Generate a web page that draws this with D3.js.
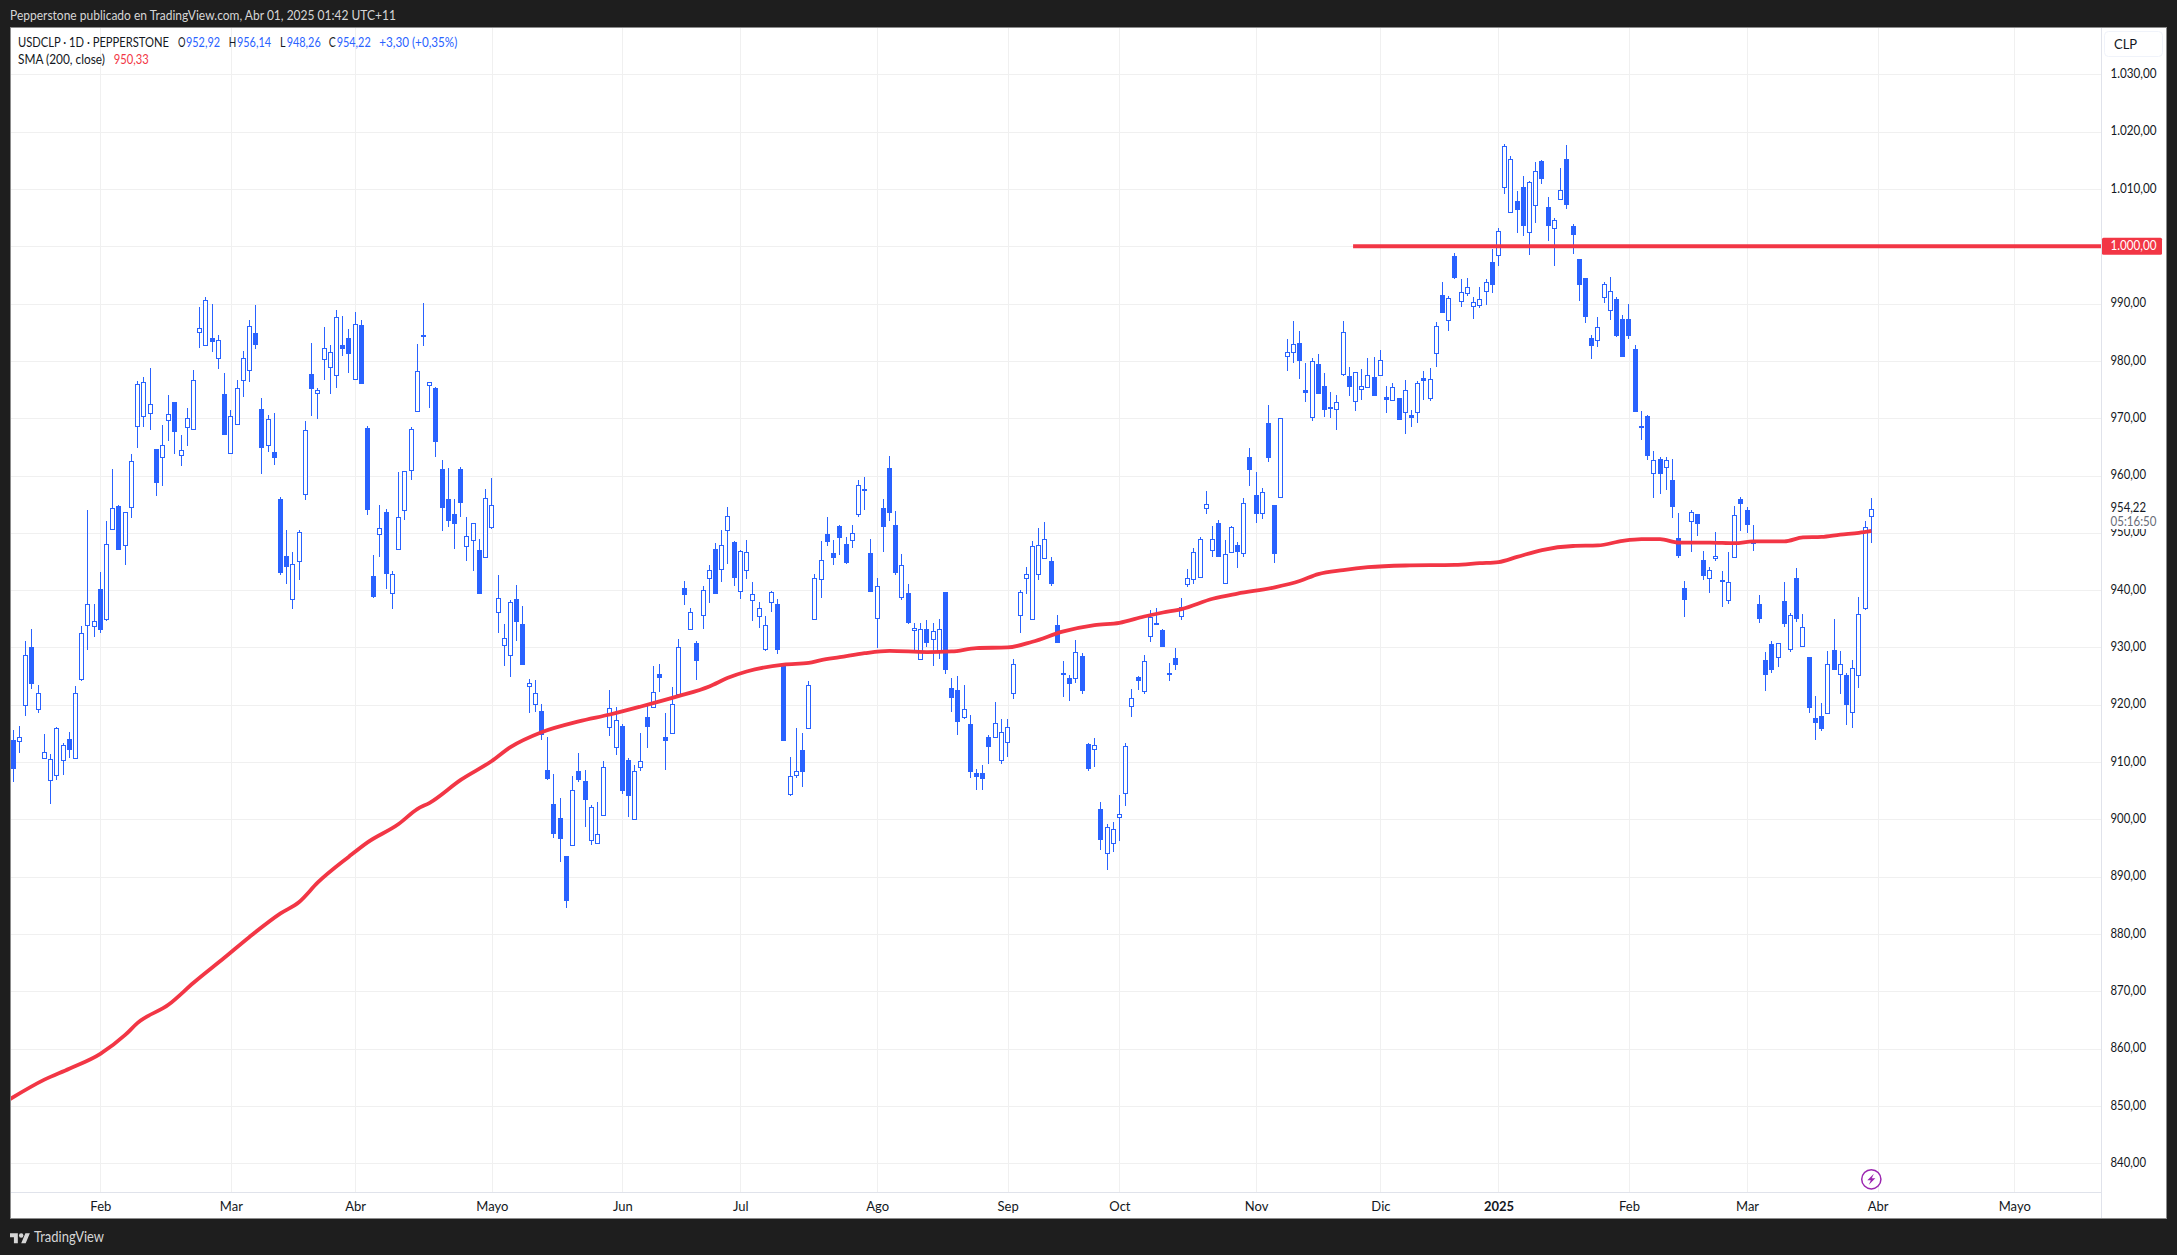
<!DOCTYPE html>
<html><head><meta charset="utf-8"><script src="https://cdn.jsdelivr.net/npm/d3@7"></script>
<style>html,body{margin:0;padding:0;background:#1e1e1e;overflow:hidden}svg{display:block}text{font-family:Lato,"Noto Sans",sans-serif;font-kerning:normal}</style></head><body><div id="c"></div>
<script>
const direction=["DUUDUUUUUD","UUUUDUUDUU","UUUDUUDUUU","UUDUDUUUUD","DUDDDUUUDU","UUUDDUDDDU","DUUUUUDUDD","DDDUUDUUUU","UDDUUDDDDD","UDDUUUUUDD",
"UUDUDDUUDU","DUUDUUDUUU","UUUDDUUDUU","UDDDDUUDDU","DDDUDUUDUU","DDDUDDDDUU","UUUUUUUDDD","DUDDUDUUUU","UDUUDDDDUU","UUUUDUUDUD",
"DUDDUUUDDU","DDDUUDUUUD","UDUDUDUDUU","DUDUUUUUDU","UUDDUUDDUU","DDDDDUUUDD","DDDDUDUDDD","UDDUUDUUDD","UDDDUDUDUD","DDUDUDUUUU"].join("");
const high=[915.6,916.3,931.1,933.2,923.4,914.9,911.4,916.1,913.4,915.3,923.2,933.8,954,937.6,943.2,952.1,961.1,954.9,953.7,963.8,
976.5,977.2,978.7,964.7,968.8,974,972.8,967.1,971.8,978.4,989.4,991.2,989.9,984.5,977.9,971.5,976.7,981.7,987.1,989.7,
973.5,970.6,970.9,956.3,950.5,946.6,950.5,969.5,983.1,975.2,985.9,982.7,988.9,987.8,985.6,988.5,987.1,968.6,946.1,954.9,
954.2,943.3,960.6,960.7,968.4,982.9,990.1,976.4,975.4,962.7,961.3,955.9,961.4,952.7,951.7,948.9,957.6,959.6,942.6,934.1,
938.2,940.9,937.2,924.5,924.3,920.1,914.4,907.9,903.7,893.6,907.6,911.6,908.7,902.5,903,910.2,922.6,919.6,916.6,910.8,
909.5,915.1,920.3,926.7,927.1,918.6,923.1,931.4,941.6,936.9,931.2,940.7,944.4,948.2,950.5,954.5,948.5,947,948.7,941.4,
937.9,935.5,939.8,938.4,927.1,910.9,915.9,915.1,924.2,942.8,948.5,952.7,948.7,951.4,949.2,951.4,959.2,959.7,948.9,942.1,
955.9,963.4,953.8,946.3,941.1,934.3,934.3,934.8,934.3,935,939.7,924.7,925,923.5,918.2,908.8,909.5,914.7,920.5,917.5,
917.5,928,940,944,948.5,950.8,951.9,945.8,935.7,927.6,925.2,931.3,929,913.3,914.2,903,899.2,899.6,904.3,913.3,
922.8,925.1,928.7,936.5,936.9,933.2,927.3,929.9,938.6,943.7,947.4,949.3,957.3,951.2,952.2,948.8,951.2,948.4,956.1,964.8,
960.6,957.8,972.3,954.8,970,983.8,986.9,985.2,979.6,980.5,981.2,977.9,974.6,974,986.9,978.9,978,978.6,980.5,980.7,
981.9,975.6,976.1,973.5,976.6,971.4,976.5,978.2,978.7,986.7,993.8,991.3,998.8,994.3,994.5,991.2,992.9,994.3,999.5,1003.2,
1017.9,1015.8,1009.7,1012.3,1011.4,1014.7,1015.1,1008.6,1004.9,1013.7,1017.7,1003.9,997.8,994.5,984.5,987.7,993.8,994.7,991.2,988,
989.9,982.8,971.3,970.5,964.3,963.3,963.3,962.9,953.5,941.6,954,953.3,946.8,944,950.2,943.3,946.7,954.7,956.3,954.5,
951.4,939.2,929.2,931.1,930.8,941.4,936,943.9,935.8,928.3,921.5,920.3,929.4,935,929.4,925.6,927.8,938.8,952.1,956.14];
const bodyHigh=[913.8,914.3,928.6,930,922,911.8,910.5,915.9,912.9,914.1,922,932.5,937.5,934.6,940.2,948.1,954.3,954.6,953.7,962.6,
975.9,976.3,972.4,964.6,965.4,970.7,972.8,964.4,970,976.6,985.7,990.6,984,983.6,974.2,970.3,975.2,980.5,986.1,984.8,
971.6,969.8,964.1,955.9,946,944.5,950.2,968,977.7,975,982.3,981.5,987.6,982.7,984,986.5,986.2,968.3,942.5,950.8,
953.6,942.9,952.7,960.7,968.2,978.2,984.45,976.3,975.2,961.1,955.9,953.3,961.1,949.4,951.7,947,956,954.8,938.6,931.7,
937.9,938.4,934.1,923.8,922,918.9,908.7,902.7,900.3,893.6,905.2,908.4,906.7,902.1,897.4,909.1,919.5,917.4,916.3,910.4,
908.4,910.2,917.8,922.3,925.4,914.4,920.1,930,940.3,936.1,930.8,940.1,943.6,947.2,947.8,952.9,948.4,946.8,946.6,939.4,
936.8,933.9,939.6,937.6,927,907.5,908.4,912.1,923.4,942.1,945.2,949.8,946.5,951.2,948,949.9,958.4,957.6,946.5,940.7,
954.3,961.3,951.4,944.3,939.5,933.4,933.2,933.2,932.8,933.2,939.7,922.9,922.6,919.2,916.7,908.1,908.1,914.4,916.9,915.2,
916.2,927.1,939.6,942.8,947.7,947.8,949,945.1,933.9,925.5,924.7,929.2,928.5,913.2,912.9,901.8,898.6,898.3,900.9,912.8,
921.1,924.8,927.6,935.3,934.3,933.1,925.5,928.2,937,942.1,946.6,949,955,949,951.7,946.3,951,947.8,955.2,963.2,
956.6,957.2,969.2,954.8,970,981.5,983,983.1,974.9,979.9,979.4,975.6,971.9,972.9,985,977.3,978,975.7,977.6,977.2,
980.1,973.7,975.4,973.5,975,970.5,976.1,977.1,976.8,986,991.5,990.9,998.3,992,992.9,990.2,990.8,993.7,997.3,1002.6,
1017.5,1015.2,1007.9,1010.4,1011.2,1013.1,1014.8,1006.9,1004.5,1009.9,1015.2,1003.6,997.8,994.5,984,985.9,993.4,992.2,990.8,987.3,
987.3,982.1,968.6,970.4,962.7,962.9,962.7,959.2,949.1,940.4,953.6,953.3,945.3,943.5,945.9,941.7,941.5,953.1,955.9,954,
948.7,937.6,927.8,930.6,930.8,938.1,935.7,942.1,933.6,928.3,917.7,918.1,927.2,929.6,927.2,925.2,926.4,935.8,951,954.22];
const bodyLow=[908.9,913.6,919.9,923.7,919.2,910.7,906.8,907.7,910.3,912.3,910.7,924.4,933.8,933.7,933.3,935.1,950.7,947.1,948,954.6,
968.6,970.3,970.9,958.8,963.3,969.6,967.7,963.6,968.4,968.1,985,982.8,983.5,980.4,967.3,963.9,968.9,976.6,978.5,982.8,
965,965.2,963.2,943.2,944.2,938.4,945.1,956.9,975.2,974.5,980.4,978.8,977.4,982.1,981.4,976.9,976,954.2,939,949.7,
942.9,939.6,947.1,953.9,961.1,971.2,984.35,975.7,965.9,954.4,952.2,951.8,955.4,947.6,948.7,939.5,945.7,950.9,936.1,930.4,
928.6,934.5,927.2,923.3,920.1,914.8,907.3,897.7,896.8,886,895.6,907,903.6,896.3,895.8,900.8,916.1,912.7,905.2,904.3,
900,909.2,916.2,919.7,924.8,913.8,915,921.8,939.2,933.2,927.9,935.7,942.2,939.5,943.6,950.5,942.3,939.8,943.5,938.4,
935.4,929.7,937.9,929.7,913.9,904.3,907.7,908.4,915.9,934.9,941.8,948.5,945.8,949.2,944.8,948.7,953.4,957.4,939.9,935.1,
951.1,953.7,943.2,938.8,934.5,933,927.9,931,931.4,929.1,926.3,921.4,917.2,917.8,908.5,907.6,907.2,912.8,914.4,910.4,
913.6,922.1,935.6,942.1,934.9,942.8,945.7,941.3,931,925.4,923.9,924.6,922.5,909,912.2,896.5,894.1,895.8,900.4,904.6,
919.7,924.2,922.4,931.9,934.2,930.3,925.4,927.1,935.4,941.1,941.9,942.4,954.3,947.1,946,941.3,946.7,946.7,946.5,961.1,
953.5,953.6,963.2,946.5,956.3,980.8,981.6,980.2,974.6,970.2,974.4,971.6,971.8,971.6,977.6,975.5,972.9,975.1,975.5,974,
977.4,973.4,973.1,969.9,971.2,970.1,971.1,976.7,973.4,981.3,988.6,987,994.7,990.4,991.9,989.5,989.7,992.1,993.4,998.4,
1010.4,1005.9,1006.5,1003.7,1002.4,1007.1,1011.9,1003.7,1003.1,1008.3,1007.4,1002.2,993.4,987.9,982.8,983.7,991.1,988.8,984.5,980.9,
984.5,971.3,968.5,963.6,960.5,960.5,961.4,954.7,946.1,938.5,952,951.7,942.6,942.1,945.5,941.6,938.3,945.8,955.2,951.5,
948.2,935.1,925.4,926.3,928.4,934.3,929.8,935.1,930.3,919.6,917,916,918.6,926.3,925.4,920.1,918.8,925.1,936.8,952.92];
const low=[906.6,911.5,918.1,922.8,918.5,910.6,902.7,906.9,907.7,910.8,910.6,924.2,929.6,931.9,932.5,934.7,950.7,947.1,944.4,952.5,
964.8,968.5,968,956.5,958.2,966.1,963.8,961.7,965.1,967.9,982.3,982.8,981.6,978.5,967.1,963.9,968.9,973.7,976.3,982,
960.3,964.1,961.8,942.6,941.1,936.7,941.8,955.8,970.4,969.8,976.7,974.3,975.3,980.8,977.8,976.9,976,953.1,938.7,945.8,
940.2,936.7,947.1,952.2,959.3,971.2,982.6,971.8,963.2,950.4,951.1,947.1,952.7,945,943.3,939.5,945.7,950.7,932.5,926.8,
924.8,931.2,927,918.6,918.8,913.9,906.8,896.8,892.6,884.6,895.6,906.6,898.6,895.6,895.7,900.8,914.6,911.3,904.5,900.5,
899.9,908.4,912.5,919.7,922.3,908.7,915,921.8,937.4,933.2,924.4,933.2,937.8,939.5,941.4,944.5,940.7,938.4,941.9,934.6,
933.4,929.3,936.1,928.9,913.9,904,907.3,905.7,915.8,934.9,938.7,947.7,944.4,946.1,944.6,947.3,952.8,954,939.9,929.9,
946.7,952.1,942.7,938.3,934.1,929.6,927.9,930,926.8,928,925.4,918.7,914.7,917.5,907.2,905.1,905.1,909.7,914.3,909.7,
910.9,921,932.6,939.3,934.9,941.8,945.7,940.7,930.7,921.4,920.7,923.8,921.9,908.5,909.2,894.6,891.2,894.4,896.3,902.4,
917.8,922.5,921.9,931,934.2,930.3,924.2,926.1,934.8,940.6,941.1,942.1,953.2,945.8,946,941.3,946.7,943.9,945.7,958.2,
951.7,952.4,962.4,944.7,956.3,978.3,979.7,976.9,972.9,969.5,974.4,970.2,970,968,977.3,973.9,971.2,973.2,975.2,973.9,
977.3,970.9,973,969.6,967.2,968.4,969.1,973.2,973,978.9,988.6,985.2,994.3,989.4,991.3,987.3,989.2,989.8,991.9,996.6,
1009.1,1005.9,1002.3,1001.8,998.5,1004.1,1010.9,1000.9,996.6,1008.3,1006.5,998.7,990.5,986.6,980.4,982.4,990.1,987.2,984.2,980.9,
983.8,971.3,966.2,962.7,956.1,956.8,957.5,952.6,945.6,935.3,946.7,949.5,941.8,939.5,945.1,937.1,937.6,945.8,950.3,950,
946.8,934.3,922.4,925.6,926.6,933.6,929.2,934.5,930.3,918.6,913.9,915.4,918.4,926.3,921.9,916.5,916,922.9,936.5,948.26];
const smaIndex=[-1,5,9,14,18,20,25,29,34,38,43,46,49,54,57,62,65,67,72,77,80,85,91,96,101,107,112,115,118,124,128,130,133,137,141,147,151,155,160,164,169,174,178,182,185,188,193,197,203,207,210,214,218,224,232,236,239,242,246,251,255,259,262,265,268,273,277,280,285,288,291,294,297,299];
const smaValue=[850.9,854.6,856.5,859.1,862.4,864.5,867.7,871.5,875.9,879.5,883.6,885.6,889,893.5,896,899.2,901.8,902.9,906.9,910.2,912.6,915.2,917.1,918.3,919.7,921.5,923.2,924.7,925.8,927,927.3,927.8,928.3,929,929.4,929.2,929.3,929.9,930,931,932.8,933.9,934.3,935.4,936.1,936.7,938.5,939.4,940.5,941.6,942.8,943.5,944,944.3,944.4,944.7,944.9,945.8,947,947.7,947.8,948.6,948.9,948.9,948.3,948.3,948.2,948.5,948.5,949.2,949.3,949.7,950,950.33];
const priceTicks=[840,850,860,870,880,890,900,910,920,930,940,950,960,970,980,990,1000,1010,1020,1030];
const monthIndex=[14,35,55,77,98,117,139,160,178,200,220,239,260,279,300,322];
const monthLabels=["Feb","Mar","Abr","Mayo","Jun","Jul","Ago","Sep","Oct","Nov","Dic","2025","Feb","Mar","Abr","Mayo"];
const levelValue=1000, levelStartIndex=215.6;
const titleText="Pepperstone publicado en TradingView.com, Abr 01, 2025 01:42 UTC+11";
const legendOHLC=[["O","952,92"],["H","956,14"],["L","948,26"],["C","954,22"]];

const W=2177,H=1255,blue="#2962ff",red="#f23645",ink="#131722",gridC="#f0f0f0",axisC="#e0e3eb",fs="13px";
const L=11,R=2101,T=28,B=1192,labelX=2110.5;
const x=d3.scaleLinear().domain([0,299]).range([13.33,1871.33]);
const y=d3.scaleLinear().domain([840,1030]).range([1163.3,74.3]);
const loc=d3.formatLocale({decimal:",",thousands:".",grouping:[3],currency:["",""]});
const fmt=loc.format(",.2f");
const fit=(sel,w)=>sel.attr("textLength",w).attr("lengthAdjust","spacingAndGlyphs");
const svg=d3.select("#c").append("svg").attr("width",W).attr("height",H).attr("viewBox",`0 0 ${W} ${H}`);
svg.append("rect").attr("width",W).attr("height",H).attr("fill","#1e1e1e");
svg.append("rect").attr("x",10.5).attr("y",27.5).attr("width",2156).attr("height",1191).attr("fill","#fff").attr("stroke","#8c8c8c");
fit(svg.append("text").attr("x",10).attr("y",19.5).attr("fill","#d6d6d6").style("font-size",fs).text(titleText),386);
svg.append("defs").append("clipPath").attr("id","plot").append("rect").attr("x",L).attr("y",T).attr("width",R-L).attr("height",B-T);
const plot=svg.append("g").attr("clip-path","url(#plot)");
const snap=v=>Math.floor(v)+0.5;
const gx=plot.append("g").attr("transform",`translate(0,${B})`).call(d3.axisBottom(x).tickValues(monthIndex).tickSize(-(B-T)).tickFormat(""));
gx.select(".domain").remove();
gx.selectAll("line").attr("stroke",gridC).attr("shape-rendering","crispEdges");
const gy=plot.append("g").attr("transform",`translate(${L},0)`).call(d3.axisRight(y).tickValues(priceTicks).tickSize(R-L).tickFormat(""));
gy.select(".domain").remove();
gy.selectAll("line").attr("stroke",gridC).attr("shape-rendering","crispEdges");
const bars=d3.range(high.length).map(i=>{const up=direction[i]==="U";return {i,up,open:up?bodyLow[i]:bodyHigh[i],close:up?bodyHigh[i]:bodyLow[i],high:high[i],low:low[i]};});
const candles=plot.append("g").attr("shape-rendering","crispEdges");
candles.selectAll("line").data(bars).join("line")
 .attr("x1",d=>snap(x(d.i))).attr("x2",d=>snap(x(d.i)))
 .attr("y1",d=>y(d.high)).attr("y2",d=>y(d.low)).attr("stroke",blue).attr("stroke-width",1);
candles.selectAll("rect").data(bars).join("rect")
 .attr("x",d=>snap(x(d.i))-2).attr("width",4)
 .attr("y",d=>Math.round(y(Math.max(d.open,d.close)))+0.5)
 .attr("height",d=>Math.max(1,Math.round(Math.abs(y(d.open)-y(d.close)))))
 .attr("fill",d=>d.up?"#fff":blue).attr("stroke",blue).attr("stroke-width",1);
const smaPts=smaIndex.map((k,n)=>[k,smaValue[n]]);
plot.append("path").attr("d",d3.line().x(d=>x(d[0])).y(d=>y(d[1])).curve(d3.curveMonotoneX)(smaPts))
 .attr("fill","none").attr("stroke",red).attr("stroke-width",3.8).attr("stroke-linejoin","round");
plot.append("line").attr("x1",x(levelStartIndex)).attr("x2",R).attr("y1",y(levelValue)).attr("y2",y(levelValue)).attr("stroke",red).attr("stroke-width",4);
svg.append("line").attr("x1",L).attr("x2",R).attr("y1",B+.5).attr("y2",B+.5).attr("stroke",axisC);
svg.append("line").attr("x1",R+.5).attr("x2",R+.5).attr("y1",28).attr("y2",1218).attr("stroke",axisC);
const ax=svg.append("g").attr("transform",`translate(0,${B})`).call(d3.axisBottom(x).tickValues(monthIndex).tickSize(0).tickPadding(0).tickFormat((d,n)=>monthLabels[n]));
ax.select(".domain").remove();
ax.selectAll("text").attr("y",18.5).attr("dy",0).attr("fill",ink).style("font-size",fs).style("font-family",'Lato,"Noto Sans",sans-serif').style("font-weight",d=>d===239?"700":"400");
const ay=svg.append("g").attr("transform",`translate(${labelX},0)`).call(d3.axisRight(y).tickValues(priceTicks).tickSize(0).tickPadding(0).tickFormat(fmt));
ay.select(".domain").remove();
ay.selectAll("text").attr("x",0).attr("dy","0.24em").attr("text-anchor","start").attr("fill",ink).style("font-size",fs).style("font-family",'Lato,"Noto Sans",sans-serif')
 .attr("textLength",d=>d>=1000?46:35.5).attr("lengthAdjust","spacingAndGlyphs");
svg.append("rect").attr("x",2104.5).attr("y",31.5).attr("width",58).attr("height",25).attr("rx",4).attr("fill","#fff").attr("stroke","#f0f3fa");
svg.append("text").attr("x",2114).attr("y",49).attr("fill",ink).style("font-size",fs).text("CLP");
svg.append("rect").attr("x",2102).attr("y",y(levelValue)-8.5).attr("width",60).attr("height",17).attr("rx",1.5).attr("fill",red);
fit(svg.append("text").attr("x",labelX).attr("y",y(levelValue)+4).attr("fill","#fff").style("font-size",fs).text(fmt(levelValue)),46);
svg.append("rect").attr("x",2103).attr("y",498).attr("width",63).attr("height",31).attr("fill","#fff");
fit(svg.append("text").attr("x",labelX).attr("y",511.5).attr("fill",ink).style("font-size",fs).text("954,22"),35.5);
fit(svg.append("text").attr("x",labelX).attr("y",526).attr("fill","#6a6d78").style("font-size",fs).text("05:16:50"),46);
const leg=svg.append("g").style("font-size",fs);
fit(leg.append("text").attr("x",18).attr("y",46.5).attr("fill",ink).text("USDCLP · 1D · PEPPERSTONE"),151);
const lx=[178,228.7,280,328.7],lw=[7.5,7.5,5.5,7],vx=[186,237,286.7,336.7];
legendOHLC.forEach((d,i)=>{fit(leg.append("text").attr("x",lx[i]).attr("y",46.5).attr("fill",ink).text(d[0]),lw[i]);fit(leg.append("text").attr("x",vx[i]).attr("y",46.5).attr("fill",blue).text(d[1]),34);});
fit(leg.append("text").attr("x",379.3).attr("y",46.5).attr("fill",blue).text("+3,30 (+0,35%)"),78);
fit(leg.append("text").attr("x",18).attr("y",63.5).attr("fill",ink).text("SMA (200, close)"),87);
fit(leg.append("text").attr("x",113.7).attr("y",63.5).attr("fill",red).text("950,33"),35);
const bolt=svg.append("g").attr("transform",`translate(${x(299)},1179.3)`);
bolt.append("circle").attr("r",9.6).attr("fill","#fff").attr("stroke","#9c27b0").attr("stroke-width",1.5);
bolt.append("path").attr("d","M2.5,-5.5 L-4,1 L-0.5,1 L-2.5,5.5 L4,-1 L0.5,-1 Z").attr("fill","#9c27b0");
const logo=svg.append("g").attr("transform","translate(10,1231) scale(0.56)").attr("fill","#d6d6d6");
logo.append("path").attr("d","M14 22H7V11H0V4h14v18zM28 22h-8l7.5-18h8L28 22z");
logo.append("circle").attr("cx",20).attr("cy",8).attr("r",4);
fit(svg.append("text").attr("x",34).attr("y",1242).attr("fill","#d6d6d6").style("font-size","15px").text("TradingView"),70);
</script></body></html>
